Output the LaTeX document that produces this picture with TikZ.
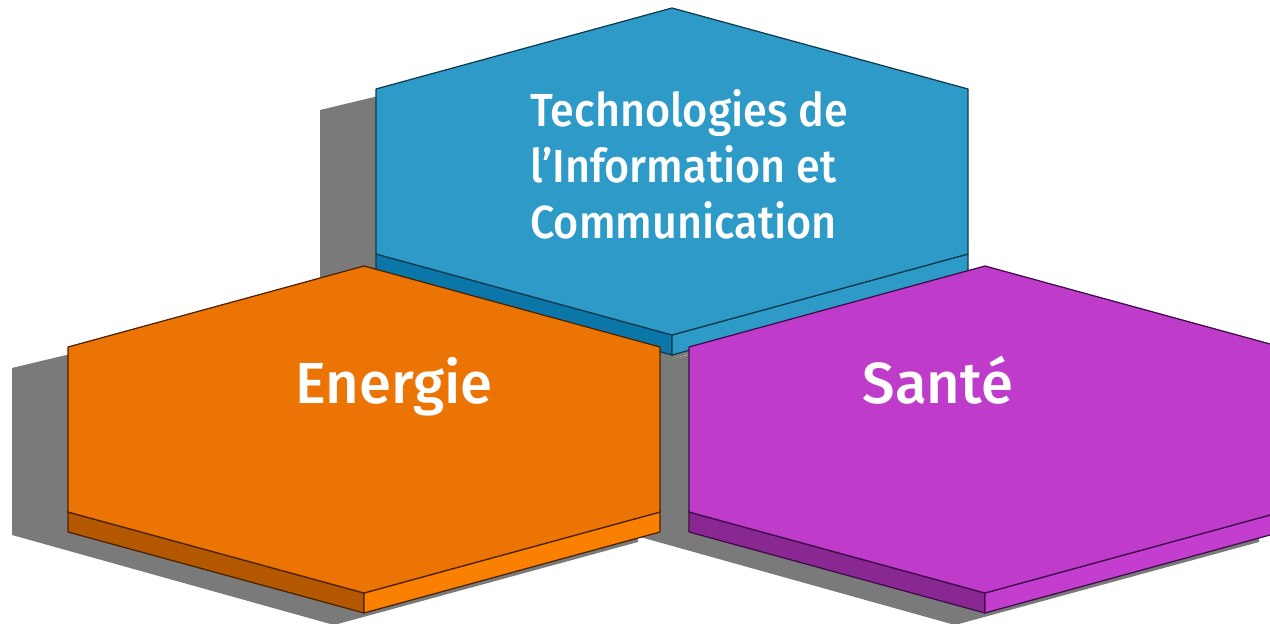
\documentclass[tikz,border=0pt]{standalone}
\usepackage{fontspec}
\setmainfont{Fira Sans}[UprightFont=* Medium]
\newfontfamily\ticfont{Fira Sans}[UprightFont=* Medium, FakeStretch=0.93]
\usepackage{tikz}

\definecolor{ticblue}{HTML}{2E9AC8}
\definecolor{ticbluedark}{HTML}{0B77A8}
\definecolor{ticblueline}{HTML}{0E3A4E}
\definecolor{enorange}{HTML}{EC7404}
\definecolor{enorangedark}{HTML}{B35800}
\definecolor{enorangelight}{HTML}{F98000}
\definecolor{enorangeline}{HTML}{4B2200}
\definecolor{sapurple}{HTML}{BF3BCA}
\definecolor{sapurpledark}{HTML}{8A2893}
\definecolor{sapurplelight}{HTML}{C33DCE}
\definecolor{sapurpleline}{HTML}{3E0A47}
\definecolor{shadowgray}{HTML}{7A7A7A}

% shadow of one block: #1 centre x, #2 top y
\newcommand{\hexshadow}[2]{%
  \fill[shadowgray] (#1-352,#2+102) -- (#1-352,#2+269) -- (#1-30,#2+359)
    -- (#1+274,#2+276) -- (#1+274,#2+111) -- (#1-30,#2+25) -- cycle;}

% one block: #1 centre x, #2 top y, #3 top, #4 left side, #5 right side, #6 line
\newcommand{\hexprism}[6]{%
  \filldraw[fill=#4, draw=#6] (#1-296,#2+246) -- (#1-296,#2+266) -- (#1,#2+347) -- (#1,#2+327) -- cycle;
  \filldraw[fill=#5, draw=#6] (#1,#2+327) -- (#1,#2+347) -- (#1+296,#2+266) -- (#1+296,#2+246) -- cycle;
  \filldraw[fill=#3, draw=#6] (#1,#2) -- (#1-296,#2+81) -- (#1-296,#2+246) -- (#1,#2+327)
    -- (#1+296,#2+246) -- (#1+296,#2+81) -- cycle;}

\begin{document}
\begin{tikzpicture}[x=0.02cm, y=-0.02cm, line width=0.7pt, line join=round,
    hextext/.style={text=white, inner sep=0pt}]
    \clip (0,0) rectangle (1270,624);

    % shadows
    \hexshadow{672}{8}
    \hexshadow{364}{266}
    \hexshadow{985}{266}

    % blocks
    \hexprism{672}{8}{ticblue}{ticbluedark}{ticblue}{ticblueline}
    \hexprism{364}{266}{enorange}{enorangedark}{enorangelight}{enorangeline}
    \hexprism{985}{266}{sapurple}{sapurpledark}{sapurplelight}{sapurpleline}

    % labels
    \node (tic) [hextext, align=left, font=\ticfont\fontsize{26.4}{31.9}\selectfont] at (689,164)
        {Technologies de\\l’Information et\\Communication};
    \node (energie) [hextext, anchor=base, font=\fontsize{33}{40}\selectfont] at (394,403) {Energie};
    \node (sante) [hextext, anchor=base, font=\fontsize{33}{40}\selectfont] at (938,403) {Santé};
\end{tikzpicture}
\end{document}
